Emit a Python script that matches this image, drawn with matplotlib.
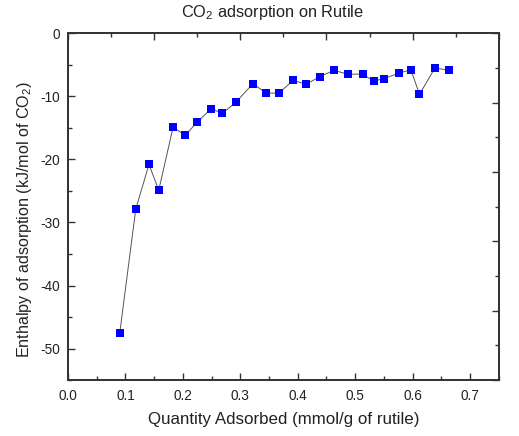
import matplotlib
matplotlib.use("Agg")
import matplotlib.pyplot as plt
from matplotlib.ticker import MultipleLocator, NullFormatter

plt.rcParams['font.family'] = ['Liberation Sans', 'DejaVu Sans']
plt.rcParams['mathtext.fontset'] = 'custom'
plt.rcParams['mathtext.rm'] = 'Liberation Sans'
plt.rcParams['axes.unicode_minus'] = False

# quantity adsorbed (mmol/g) and enthalpy (kJ/mol)
quantity = [0.090, 0.118, 0.141, 0.158, 0.183, 0.204, 0.225, 0.249, 0.269,
            0.293, 0.322, 0.345, 0.367, 0.392, 0.415, 0.438, 0.463, 0.487,
            0.513, 0.532, 0.551, 0.577, 0.597, 0.612, 0.639, 0.663]
enthalpy = [-47.6, -27.9, -20.8, -24.9, -14.9, -16.2, -14.1, -12.0, -12.7,
            -10.9, -8.0, -9.5, -9.5, -7.5, -8.1, -6.9, -5.9, -6.5,
            -6.5, -7.6, -7.2, -6.3, -5.8, -9.7, -5.5, -5.9]

fig = plt.figure(figsize=(5.19, 4.36), dpi=100)
ax = fig.add_axes([0.131, 0.128, 0.830, 0.796])

ax.plot(quantity, enthalpy, color='#555555', linewidth=0.7,
        marker='s', markersize=5.2, markerfacecolor='#0000ff',
        markeredgecolor='#0000ff', markeredgewidth=0, zorder=3)

ax.set_xlim(0, 0.75)
ax.set_ylim(-55, 0)
ax.xaxis.set_major_locator(MultipleLocator(0.1))
ax.xaxis.set_minor_locator(MultipleLocator(0.05))
ax.yaxis.set_major_locator(MultipleLocator(10))
ax.yaxis.set_minor_locator(MultipleLocator(5))
ax.xaxis.set_major_formatter(lambda v, p: f"{v:.1f}")
ax.yaxis.set_major_formatter(lambda v, p: "0" if abs(v) < 1e-9 else f"{v:.0f}")

# top and right axes carry their own unlabeled tick spacing
top = ax.twiny()
top.set_xlim(0, 0.75)
top.xaxis.set_major_locator(MultipleLocator(0.15))
top.xaxis.set_minor_locator(MultipleLocator(0.075))
top.xaxis.set_major_formatter(NullFormatter())

right = ax.twinx()
right.set_ylim(-55, 0)
right.yaxis.set_major_locator(MultipleLocator(11))
right.yaxis.set_minor_locator(MultipleLocator(5.5))
right.yaxis.set_major_formatter(NullFormatter())

for a in (ax, top, right):
    for s in a.spines.values():
        s.set_color('#333333')
        s.set_linewidth(1.1)
    a.tick_params(which='both', direction='in', color='#333333', width=1.0,
                  labelsize=9.8, labelcolor='#222222')
    a.tick_params(which='major', length=5, pad=6)
    a.tick_params(which='minor', length=3)

ax.set_xlabel('Quantity Adsorbed (mmol/g of rutile)', fontsize=12.2,
              color='#222222', labelpad=7)
ax.set_ylabel('Enthalpy of adsorption (kJ/mol of CO$_2$)', fontsize=11.6,
              color='#222222')
ax.yaxis.set_label_coords(-0.078, 0.4625)
fig.text(273 / 519, 1 - 13 / 436, 'CO$_2$ adsorption on Rutile',
         fontsize=11.8, color='#222222', ha='center', va='center')

fig.savefig('out.png', dpi=100)
